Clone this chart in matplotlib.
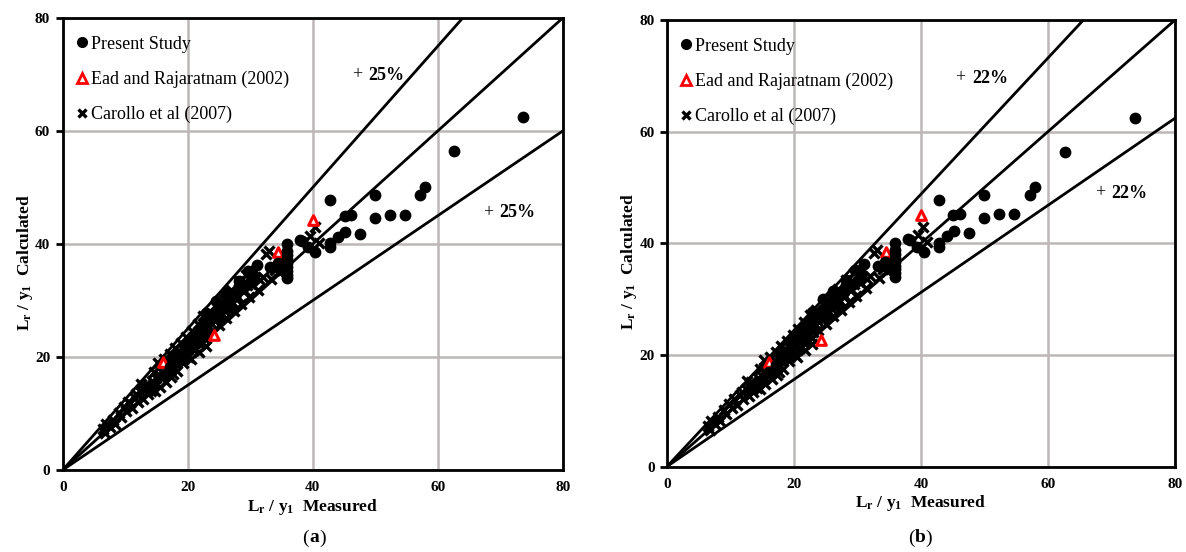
import matplotlib
matplotlib.use("Agg")
import matplotlib.pyplot as plt
import numpy as np
from matplotlib.lines import Line2D

plt.rcParams['font.family'] = ['Liberation Serif', 'DejaVu Serif']
plt.rcParams['mathtext.fontset'] = 'custom'
plt.rcParams['mathtext.rm'] = 'Liberation Serif'
plt.rcParams['mathtext.bf'] = 'Liberation Serif:bold'
plt.rcParams['mathtext.it'] = 'Liberation Serif:italic'

# ---------------- data ----------------
present_x = [14.5, 16.0, 17.2, 18.0, 18.8, 19.5, 20.0, 20.6, 21.2, 21.8, 22.4, 23.0, 23.6, 24.3,
             25.0, 25.7, 26.4, 27.1, 27.8, 28.5, 29.2, 29.9, 30.6, 31.1, 33.2, 34.4,
             35.9, 35.9, 35.9, 35.9, 35.9, 35.9, 35.9, 35.9, 35.9, 38.0, 39.3, 38.3, 40.4,
             42.8, 42.8, 44.1, 45.2, 47.6, 45.1, 46.1, 49.9, 52.3, 54.7, 42.8, 49.9, 57.1,
             58.0, 62.6, 73.7, 24.5, 26.2, 22.9, 28.2, 29.6, 27.0, 25.2]
present_y = [15.0, 16.9, 18.2, 19.5, 20.6, 21.4, 22.1, 22.9, 23.4, 24.5, 25.0, 25.9, 26.5, 27.4,
             28.3, 28.9, 29.7, 30.6, 31.2, 32.1, 32.6, 33.3, 34.0, 36.2, 35.9, 36.6,
             33.9, 34.6, 35.3, 36.0, 36.7, 37.4, 38.1, 38.8, 40.0, 40.7, 39.4, 40.6, 38.5,
             39.4, 40.1, 41.3, 42.2, 41.8, 45.0, 45.2, 44.6, 45.2, 45.2, 47.7, 48.6, 48.6,
             50.1, 56.4, 62.5, 30.0, 31.5, 27.7, 33.5, 35.2, 28.9, 27.1]

carollo_x = [6.5, 6.8, 7.0, 7.5, 8.0, 8.4, 9.0, 9.3, 9.8, 10.2, 10.7, 11.1, 11.5, 12.0, 12.4, 12.9,
             13.3, 13.6, 14.0, 14.3, 14.7, 15.0, 15.2, 15.5, 15.9, 16.2, 16.5, 16.8, 17.1, 17.4,
             17.7, 18.0, 18.3, 18.6, 18.9, 19.2, 19.5, 19.8, 20.1, 20.4, 20.7, 21.0, 21.3, 21.6,
             21.9, 22.2, 22.5, 22.8, 23.1, 23.4, 23.8, 24.2, 24.6, 25.0, 25.4, 25.8, 26.2, 26.6,
             27.0, 27.4, 27.8, 28.2, 28.6, 29.0, 29.4, 29.8, 30.2, 30.8, 31.3, 32.0, 32.6, 33.4,
             34.0, 35.0, 35.4, 39.6, 40.3, 41.0, 17.3, 18.5, 19.6, 20.8, 21.5, 22.6, 23.6, 24.5,
             25.5, 26.5, 27.5, 28.5, 29.5, 30.5, 31.5, 15.8, 16.9, 19.0, 20.2, 21.2, 22.0, 13.0,
             11.8, 10.5, 14.6, 16.0, 19.9, 23.0, 26.0, 27.2, 28.0, 33.0, 34.6, 18.0, 16.4, 18.9,
             21.8, 20.5, 22.9, 17.6, 12.6, 14.2]
carollo_y = [7.2, 6.5, 8.1, 7.6, 8.9, 8.2, 10.1, 9.4, 11.2, 10.4, 11.9, 11.0, 12.8, 12.1, 13.9, 12.6,
             15.2, 13.4, 14.6, 15.8, 13.9, 16.2, 19.0, 14.7, 17.4, 19.6, 15.6, 18.3, 20.5, 16.4,
             19.2, 21.6, 17.5, 20.2, 22.4, 18.9, 21.3, 23.5, 20.0, 22.6, 24.6, 21.2, 23.4, 25.9,
             22.3, 24.6, 27.2, 23.1, 25.8, 28.0, 24.5, 26.7, 29.2, 25.6, 27.8, 30.3, 26.9, 29.1,
             31.8, 28.1, 30.4, 33.5, 29.4, 31.8, 34.6, 30.6, 33.0, 35.2, 31.9, 34.1, 38.2, 33.8,
             35.4, 37.5, 36.3, 41.5, 43.0, 40.2, 18.8, 19.4, 20.8, 21.9, 23.8, 25.1, 26.2, 27.5,
             29.1, 30.0, 31.0, 32.2, 32.7, 34.1, 33.6, 16.5, 17.6, 20.4, 21.7, 22.5, 23.6, 14.2,
             13.4, 12.1, 17.4, 18.5, 22.0, 24.1, 28.2, 29.6, 30.6, 38.8, 35.0, 20.2, 16.8, 19.8,
             20.8, 19.6, 22.0, 17.0, 15.3, 14.0]

ead_x = [16.0, 24.2, 34.5, 40.0]
ead_y_a = [19.2, 23.9, 38.6, 44.2]
ead_y_b = [18.8, 22.6, 38.4, 45.1]

bands = {'a': 0.25, 'b': 0.22}
band_labels = {'a': '25%', 'b': '22%'}

# ---------------- figure ----------------
W, H = 1186, 552
fig = plt.figure(figsize=(W / 100, H / 100), dpi=100)

axes_px = {'a': (62.7, 562.7, 18, 470), 'b': (667, 1175, 20, 466.5)}
grid_color = '#bdb7b7'


def make_panel(key, ead_y, txt_up, txt_lo, cap_x):
    l, r, t, b = axes_px[key]
    ax = fig.add_axes([l / W, 1 - b / H, (r - l) / W, (b - t) / H])
    ax.set_xlim(0, 80)
    ax.set_ylim(0, 80)
    ax.set_xticks([0, 20, 40, 60, 80])
    ax.set_yticks([0, 20, 40, 60, 80])
    ax.grid(True, color=grid_color, linewidth=1.8, zorder=0)
    ax.set_axisbelow(True)
    for s in ax.spines.values():
        s.set_linewidth(2.0)
        s.set_color('black')
    ax.tick_params(axis='x', length=0, pad=8, labelsize=11)
    ax.tick_params(axis='y', length=5, width=2, direction='out', pad=4, labelsize=11)
    for lab in ax.get_xticklabels() + ax.get_yticklabels():
        lab.set_fontweight('bold')

    p = bands[key]
    xs = np.array([0, 80])
    for k in (1 + p, 1.0, 1 - p):
        ax.plot(xs, k * xs, color='black', linewidth=2.0, zorder=2, clip_on=True)

    ax.scatter(carollo_x, carollo_y, marker='x', s=52, color='black', linewidths=2.4, zorder=3)
    ax.scatter(ead_x, ead_y, marker='^', s=48, facecolors='white', edgecolors='red',
               linewidths=2.2, zorder=3.5)
    ax.scatter(present_x, present_y, marker='o', s=56, color='black', edgecolors='black', zorder=4)

    handles = [
        Line2D([], [], marker='o', linestyle='none', color='black', markersize=7),
        Line2D([], [], marker='^', linestyle='none', markerfacecolor='white',
               markeredgecolor='red', markeredgewidth=2.0, markersize=7),
        Line2D([], [], marker='x', linestyle='none', color='black', markeredgewidth=2.4, markersize=6),
    ]
    ax.legend(handles, ['Present Study', 'Ead and Rajaratnam (2002)', 'Carollo et al (2007)'],
              loc='upper left', bbox_to_anchor=(-0.005, 0.985), frameon=False, fontsize=13,
              handletextpad=-0.1, handlelength=1.2, labelspacing=1.0, borderaxespad=0.2)

    ax.text(txt_up[0], txt_up[1], '+', fontsize=13, ha='left', va='center')
    ax.text(txt_up[0] + 2.6, txt_up[1], band_labels[key], fontsize=13, fontweight='bold',
            ha='left', va='center')
    ax.text(txt_lo[0], txt_lo[1], '+', fontsize=13, ha='left', va='center')
    ax.text(txt_lo[0] + 2.6, txt_lo[1], band_labels[key], fontsize=13, fontweight='bold',
            ha='left', va='center')

    ax.set_xlabel(r'$\mathbf{L_r}$ / $\mathbf{y_1}$  Measured', fontsize=12.5, fontweight='bold',
                  labelpad=2)
    ax.set_ylabel(r'$\mathbf{L_r}$ / $\mathbf{y_1}$  Calculated', fontsize=12.5, fontweight='bold')
    ax.yaxis.set_label_coords(-0.055, 0.46)

    fig.text(cap_x / W, 1 - 538 / H, '(', fontsize=14, ha='right', va='center')
    fig.text(cap_x / W, 1 - 538 / H, key, fontsize=14, fontweight='bold', ha='left', va='center')
    fig.text((cap_x + 10) / W, 1 - 538 / H, ')', fontsize=14, ha='left', va='center')
    return ax


make_panel('a', ead_y_a, (46.3, 69.9), (67.2, 45.5), 309)
make_panel('b', ead_y_b, (45.4, 69.6), (67.4, 49.0), 915)

fig.savefig('out.png', dpi=100)
